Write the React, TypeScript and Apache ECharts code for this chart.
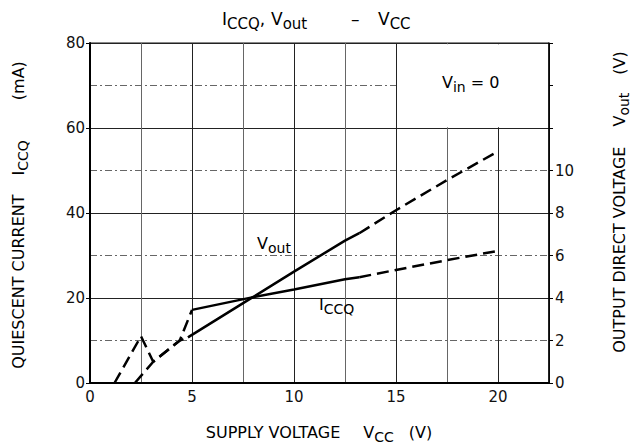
import React, { useEffect, useRef } from "react";
import * as echarts from "echarts";

// Supply voltage Vcc (V) vs quiescent current Iccq (mA)
const iccqDashLow: number[][] = [[1.2, 0], [2.5, 11], [3.1, 5], [4.4, 10], [5.0, 17.2]];
const iccqSolid: number[][] = [[5.0, 17.2], [8, 20.2], [10, 22.0], [12.5, 24.4], [13.2, 24.9]];
const iccqDashHigh: number[][] = [[13.2, 24.9], [15, 26.6], [17.5, 28.9], [20, 31.1]];
// Supply voltage Vcc (V) vs output direct voltage Vout (V)
const voutDashLow: number[][] = [[2.2, 0], [3.1, 1.0], [4.4, 2.0], [4.8, 2.15]];
const voutSolid: number[][] = [[4.8, 2.15], [8, 4.05], [10, 5.24], [12.5, 6.7], [13.2, 7.05]];
const voutDashHigh: number[][] = [[13.2, 7.05], [15, 8.13], [17.5, 9.55], [20, 10.9]];

const xRange = [0, 22.5];
const leftRange = [0, 80];
const rightRange = [0, 16];
const rightLabelMax = 10;
const noteBox = [[15, 60], [22.5, 80]];

const FONT = "'DejaVu Sans', 'Open Sans', sans-serif";

function richLabel(size: number, sub: number, lh: number) {
  return {
    n: { fontSize: size, fontFamily: FONT, color: "#111", lineHeight: lh, verticalAlign: "top" },
    s: { fontSize: sub, fontFamily: FONT, color: "#111", lineHeight: sub, verticalAlign: "bottom" },
  };
}

export default function App() {
  const ref = useRef<HTMLDivElement>(null);
  useEffect(() => {
    if (!ref.current) return;
    const chart = echarts.init(ref.current, undefined, { renderer: "svg" });
    const dash = [12, 6];
    const mk = (data: number[][], yAxisIndex: number, dashed: boolean, extra: any = {}) => ({
      type: "line",
      data,
      yAxisIndex,
      symbol: "none",
      silent: true,
      z: 5,
      lineStyle: { color: "#000", width: 2.5, type: dashed ? dash : "solid", cap: "butt" },
      ...extra,
    });
    const titleRich = richLabel(17, 15, 21);
    const labRich = richLabel(16, 14, 20);
    const option: any = {
      animation: false,
      backgroundColor: "#fff",
      grid: { left: 90, right: 83, top: 43, bottom: 64, show: true, borderColor: "#111", borderWidth: 1 },
      xAxis: {
        type: "value",
        min: xRange[0],
        max: xRange[1],
        interval: 5,
        axisLine: { show: true, onZero: false, lineStyle: { color: "#000", width: 2 } },
        axisTick: { show: false },
        axisLabel: {
          fontSize: 15,
          fontFamily: FONT,
          color: "#111",
          margin: 6,
          formatter: (v: number) => (v % 5 === 0 ? String(v) : ""),
        },
        splitLine: { show: true, lineStyle: { color: "#222", width: 1 } },
        minorTick: { show: false, splitNumber: 2 },
        minorSplitLine: { show: true, lineStyle: { color: "#666", width: 1 } },
      },
      yAxis: [
        {
          type: "value",
          min: leftRange[0],
          max: leftRange[1],
          interval: 20,
          position: "left",
          axisLine: { show: true, lineStyle: { color: "#000", width: 2 } },
          axisTick: { show: true, length: 4, lineStyle: { color: "#000" } },
          axisLabel: { fontSize: 15, fontFamily: FONT, color: "#111", margin: 5 },
          splitLine: { show: true, lineStyle: { color: "#222", width: 1 } },
          minorTick: { show: false, splitNumber: 2 },
          minorSplitLine: { show: true, lineStyle: { color: "#666", width: 1, type: [7, 3, 2, 3] } },
        },
        {
          type: "value",
          min: rightRange[0],
          max: rightRange[1],
          interval: 2,
          position: "right",
          axisLine: { show: true, lineStyle: { color: "#000", width: 1.5 } },
          axisTick: { show: true, length: 4, lineStyle: { color: "#000" } },
          axisLabel: {
            fontSize: 15,
            fontFamily: FONT,
            color: "#111",
            margin: 6,
            formatter: (v: number) => (v <= rightLabelMax ? String(v) : ""),
          },
          splitLine: { show: false },
        },
      ],
      series: [
        mk(iccqSolid, 0, false, {
          markArea: {
            silent: true,
            itemStyle: { color: "#fff", opacity: 1 },
            data: [[
              { coord: [noteBox[0][0] + 0.07, noteBox[0][1] + 0.2] },
              { coord: [noteBox[1][0] - 0.07, noteBox[1][1] - 0.3] },
            ]],
          },
        }),
        mk(iccqDashLow, 0, true),
        mk(iccqDashHigh, 0, true),
        mk(voutSolid, 1, false),
        mk(voutDashLow, 1, true),
        mk(voutDashHigh, 1, true),
      ],
      graphic: [
        { type: "text", left: 222, top: 10, style: { text: "{n|I}{s|CCQ}{n|,}", rich: titleRich } },
        { type: "text", left: 271, top: 10, style: { text: "{n|V}{s|out}", rich: titleRich } },
        { type: "text", left: 351, top: 10, style: { text: "{n|–}", rich: titleRich } },
        { type: "text", left: 378, top: 10, style: { text: "{n|V}{s|CC}", rich: titleRich } },
        {
          type: "text",
          x: 20,
          y: 215,
          rotation: Math.PI / 2,
          style: {
            text: "{n|QUIESCENT CURRENT}{g|}{n|I}{s|CCQ}{g2|}{n|(mA)}",
            align: "center",
            verticalAlign: "middle",
            rich: { ...labRich, g: { width: 19 }, g2: { width: 40 } },
          },
        },
        {
          type: "text",
          x: 621,
          y: 202,
          rotation: Math.PI / 2,
          style: {
            text: "{n|OUTPUT DIRECT VOLTAGE}{g|}{n|V}{s|out}{g2|}{n|(V)}",
            align: "center",
            verticalAlign: "middle",
            rich: { ...labRich, g: { width: 20 }, g2: { width: 18 } },
          },
        },
        {
          type: "text",
          x: 319,
          y: 434,
          style: {
            text: "{n|SUPPLY VOLTAGE}{g|}{n|V}{s|CC}{g2|}{n|(V)}",
            align: "center",
            verticalAlign: "middle",
            rich: { ...labRich, g: { width: 23 }, g2: { width: 15 } },
          },
        },
        { type: "text", left: 257, top: 235, z: 10, style: { text: "{n|V}{s|out}", rich: labRich } },
        { type: "text", left: 319, top: 296, z: 10, style: { text: "{n|I}{s|CCQ}", rich: labRich } },
        { type: "text", left: 442, top: 74, z: 10, style: { text: "{n|V}{s|in}{n| = 0}", rich: labRich } },
      ],
    };
    chart.setOption(option);
    return () => chart.dispose();
  }, []);
  return (
    <div
      ref={ref}
      style={{ position: "fixed", left: 0, top: 0, width: 632, height: 447, background: "#fff" }}
    />
  );
}
